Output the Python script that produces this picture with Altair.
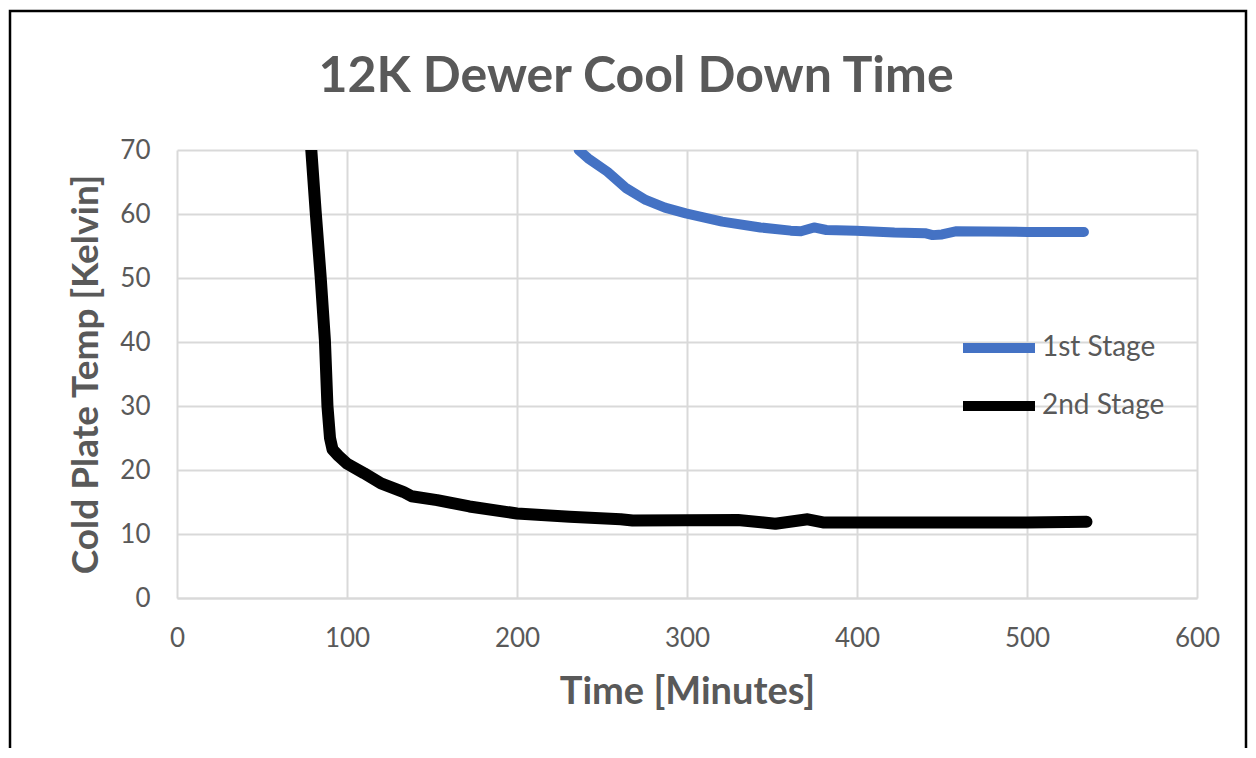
import altair as alt
import pandas as pd

# ---- data ----
series_names = ["1st Stage", "2nd Stage"]
series_colors = ["#4472C4", "#000000"]
series_widths = [10, 12]

stage1_time = [236.3, 241.8, 253.2, 264.4, 275.7, 287.0, 299.3, 320.7, 343.2, 361.0, 367.0,
               374.7, 382.0, 399.4, 422.0, 440.0, 444.5, 450.0, 458.0, 500.7, 533.5]
stage1_temp = [70.0, 68.7, 66.6, 64.0, 62.2, 61.0, 60.1, 58.8, 57.9, 57.4, 57.3,
               57.9, 57.5, 57.4, 57.1, 57.0, 56.7, 56.8, 57.3, 57.2, 57.2]

stage2_time = [79.0, 81.5, 84.5, 87.0, 88.5, 90.0, 91.5, 95.0, 100.0, 110.0, 120.0, 133.0,
               138.0, 153.0, 172.0, 200.0, 231.0, 261.0, 268.0, 330.0, 345.0, 352.0,
               371.0, 380.0, 398.0, 450.0, 500.0, 535.0]
stage2_temp = [70.0, 60.6, 50.2, 40.3, 30.0, 25.0, 23.2, 22.2, 21.0, 19.5, 17.9, 16.6,
               15.9, 15.3, 14.3, 13.2, 12.7, 12.3, 12.1, 12.2, 11.8, 11.6,
               12.3, 11.8, 11.8, 11.8, 11.8, 11.9]

x_ticks = [0, 100, 200, 300, 400, 500, 600]
y_ticks = [0, 10, 20, 30, 40, 50, 60, 70]

# ---- build table ----
rows = []
for i, (t, v) in enumerate(zip(stage1_time, stage1_temp)):
    rows.append({"time": t, "temp": v, "series": series_names[0], "idx": i})
for i, (t, v) in enumerate(zip(stage2_time, stage2_temp)):
    rows.append({"time": t, "temp": v, "series": series_names[1], "idx": i})
df = pd.DataFrame(rows)

FONT = "Lato"
GRAY = "#595959"
GRID = "#d9d9d9"

x_enc = alt.X("time:Q",
              scale=alt.Scale(domain=[0, 600], nice=False),
              axis=alt.Axis(values=x_ticks, title="Time [Minutes]", ticks=False,
                            labelFlush=False,
                            labelFontSize=26, labelFont=FONT, labelColor=GRAY,
                            labelPadding=27, domainColor=GRID, domainWidth=2,
                            gridColor=GRID, gridWidth=2,
                            titleFont=FONT, titleFontSize=38, titleFontWeight="bold",
                            titleColor=GRAY, titlePadding=22))
y_enc = alt.Y("temp:Q",
              scale=alt.Scale(domain=[0, 70], nice=False),
              axis=alt.Axis(values=y_ticks, title="Cold Plate Temp [Kelvin]", ticks=False,
                            labelFlush=False,
                            labelFontSize=26, labelFont=FONT, labelColor=GRAY,
                            labelPadding=27, domain=False,
                            gridColor=GRID, gridWidth=2,
                            titleFont=FONT, titleFontSize=37, titleFontWeight="bold",
                            titleColor=GRAY, titlePadding=14))

legend_y = [157, 215]

layers = []
for k in range(2):
    layers.append(
        alt.Chart(df).transform_filter(
            alt.datum.series == series_names[k]
        ).mark_line(
            strokeCap="round", strokeJoin="round", clip=True, strokeWidth=series_widths[k]
        ).encode(
            x=x_enc,
            y=y_enc,
            color=alt.Color("series:N",
                            scale=alt.Scale(domain=[series_names[k]], range=[series_colors[k]]),
                            legend=alt.Legend(title=None, orient="none",
                                              legendX=781, legendY=legend_y[k],
                                              symbolType="stroke", symbolSize=5184,
                                              symbolStrokeWidth=10, labelFontSize=28,
                                              labelFont=FONT, labelColor=GRAY,
                                              labelOffset=2, padding=0)),
            order="idx:Q",
        )
    )

frame = alt.Chart(pd.DataFrame({"a": [0]})).mark_rect(
    filled=False, stroke="#000000", strokeWidth=2.5, clip=False
).encode(
    x=alt.value(-167), x2=alt.value(1069), y=alt.value(-139), y2=alt.value(640)
)

chart = alt.layer(*layers, frame).resolve_scale(color="independent").properties(
    width=1020,
    height=448,
    autosize=alt.AutoSizeParams(type="none"),
    padding={"left": 169, "top": 142, "right": 51, "bottom": 150},
    background="white",
    title=alt.TitleParams("12K Dewer Cool Down Time", fontSize=50, font=FONT,
                          fontWeight="bold", color=GRAY, anchor="middle",
                          frame="group", dx=-51, offset=0, dy=92),
).configure_view(stroke=None)

chart.save("out.html", embed_options={"renderer": "svg", "actions": False})
